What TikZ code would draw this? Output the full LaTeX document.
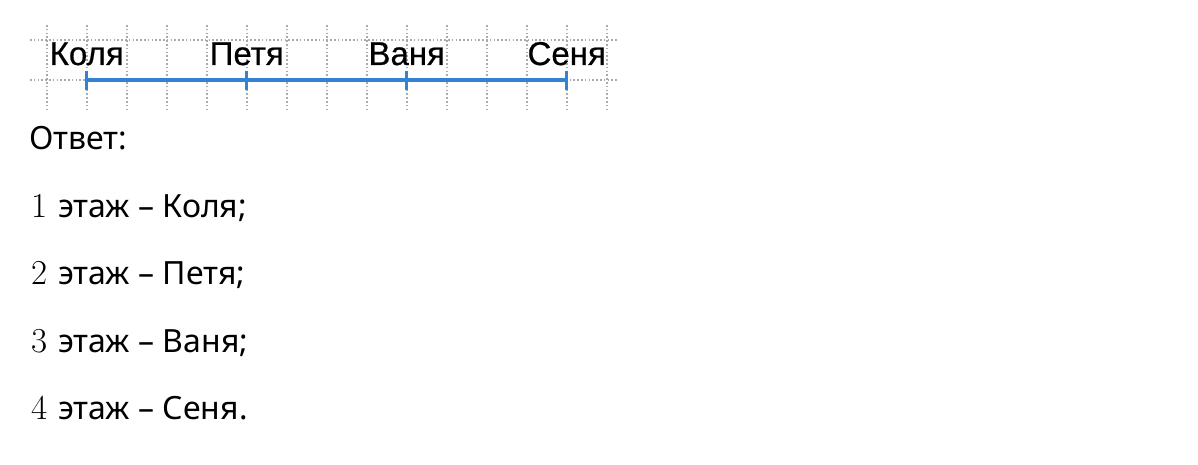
\documentclass[tikz,border=0pt]{standalone}
\usepackage{fontspec}
\newfontfamily\namefont[FakeBold=0.6]{Liberation Sans}
\newfontfamily\answerfont{Noto Sans}
\usepackage{tikz}
\usetikzlibrary{calc, positioning}
\definecolor{lineblue}{RGB}{52,130,210}
\definecolor{gridgray}{RGB}{170,170,170}
\newcommand{\floornum}[1]{{\rmfamily\fontsize{35}{35}\selectfont #1}\hspace{3pt}}
\tikzset{
	every node/.style={
		inner sep=0pt,
		outer sep=0pt
	},
	gridline/.style={
		draw=gridgray,
		line width=1.6pt,
		dash pattern=on 1.6pt off 2.2pt
	},
	floorline/.style={
		draw=lineblue,
		line width=3.2pt
	},
	kid/.style={
		font=\namefont\fontsize{33}{33}\selectfont,
		anchor=base
	},
	answer/.style={
		font=\answerfont\fontsize{32}{32}\selectfont,
		anchor=base west
	}
}

\begin{document}
\begin{tikzpicture}[x=1pt,y=-1pt]
	\useasboundingbox (0,0) rectangle (1198,465);
	
	% draw grid
	\foreach \gx in {0,...,14}
	\draw[gridline] (46.7+40*\gx,25) -- (46.7+40*\gx,110);
	\draw[gridline] (30,40) -- (617,40);
	\draw[gridline] (30,80) -- (617,80);
	
	\coordinate (kolya) at (86.7,80);
	\coordinate (petya) at (246.7,80);
	\coordinate (vanya) at (406.7,80);
	\coordinate (senya) at (566.7,80);
	
	\draw[floorline] (kolya) -- (petya) -- (vanya) -- (senya);
	\draw[floorline, line width=2.6pt] ($(kolya)+(0,-9)$) -- ($(kolya)+(0,10)$);
	\draw[floorline, line width=2.6pt] ($(petya)+(0,-9)$) -- ($(petya)+(0,10)$);
	\draw[floorline, line width=2.6pt] ($(vanya)+(0,-9)$) -- ($(vanya)+(0,10)$);
	\draw[floorline, line width=2.6pt] ($(senya)+(0,-9)$) -- ($(senya)+(0,10)$);
	
	\node[kid] (kolyaname) at ($(kolya)+(0,-15)$) {Коля};
	\node[kid] (petyaname) at ($(petya)+(0,-15)$) {Петя};
	\node[kid] (vanyaname) at ($(vanya)+(0,-15)$) {Ваня};
	\node[kid] (senyaname) at ($(senya)+(0,-15)$) {Сеня};
	
	% answer
	\node[answer] (otvet) at (29,150) {Ответ:};
	\node[answer] (floor1) at (31,217) {\floornum{1} этаж – Коля;};
	\node[answer] (floor2) at (31,284.5) {\floornum{2} этаж – Петя;};
	\node[answer] (floor3) at (31,352) {\floornum{3} этаж – Ваня;};
	\node[answer] (floor4) at (31,419.5) {\floornum{4} этаж – Сеня.};
\end{tikzpicture}
\end{document}
